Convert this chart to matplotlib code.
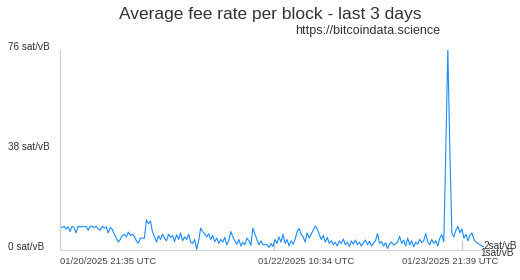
import matplotlib
matplotlib.use("Agg")
import matplotlib.pyplot as plt
import numpy as np

plt.rcParams['font.family'] = ['Liberation Sans', 'DejaVu Sans']

# average fee rate per block (sat/vB), oldest -> newest
fee = [9, 8.5, 9, 8, 8.8, 7, 9, 8.5, 6.5, 9, 8.7, 9, 8.8, 9, 7.5, 9, 9, 8.5, 9, 8,
       7.5, 9, 8.3, 8.8, 6.5, 8.5, 7.8,
       6, 4.5, 3, 4,
       5.5, 6, 5, 6.8, 5.5, 6, 5.2,
       3.5, 2.6, 4.5, 4.5, 4.5,
       11.4, 10, 11,
       7, 5, 3,
       5.5, 4, 6, 4.5, 3.5, 6, 4.8, 5.5, 3.2, 5.8, 4, 6.5, 3.5,
       5, 4, 6, 3, 2.5, 4, 0.3,
       3.5, 8.3, 7,
       6, 5, 6.2, 4, 5.5, 3.2, 4.5, 2.5, 4, 3, 4.8, 2, 3.5,
       7, 5,
       3.5, 2.2, 4, 1.5, 3, 2, 4.5, 3.5, 1.8,
       8.3, 6,
       4, 2, 3.5, 2, 2, 2, 1, 2.5, 1.3,
       4, 2.5, 5, 3, 6, 2.5, 4,
       1.5, 3.5, 2.2, 4,
       7, 8.2, 6, 5, 3, 6.5, 4.5,
       6, 7.5, 9.1, 8, 6,
       4, 5.5, 3, 4.8, 2.5,
       3.5, 2, 3, 1.5, 3.5, 2.5, 4.2, 2, 3, 1.3, 3.5, 2.2, 3.8, 2, 3, 1.5, 2.8,
       3.8, 2, 3.3, 1.5, 2.6, 3.5,
       6.3,
       2.5, 3.2, 1.5, 2.8, 0.6, 2.2, 3, 1.8, 2.4,
       3, 5.2, 2.5, 3.8, 1.5, 4.5, 2, 3.5, 1.2, 3, 2.2, 4, 2.8, 3.5,
       6.3,
       3, 2, 4, 2.5, 3.5, 1.5, 4.5, 5.8,
       3.2,
       38.5, 76, 38,
       6.5, 5, 7.5, 9,
       6.5, 8, 4.5, 6, 3.5, 5.5, 6.5, 4, 3, 2.5,
       2, 1.5, 1.2]

y_ticks = [0, 38, 76]
y_labels = ['0 sat/vB', '38 sat/vB', '76 sat/vB']
x_labels = ['01/20/2025 21:35 UTC', '01/22/2025 10:34 UTC', '01/23/2025 21:39 UTC']
x_label_pos = [0, 98.5, 170]     # block index where each label starts
x_tick_pos = [106.5, 200]
end_labels = ['2sat/vB', '1sat/vB']

W, H = 520, 280
fig = plt.figure(figsize=(W / 100, H / 100), dpi=100)
ax = fig.add_axes([60 / W, 1 - 250 / H, (484 - 60) / W, 200 / H])

x = np.arange(len(fee))
ax.plot(x, fee, color='#1a8cff', lw=0.8)

ax.set_xlim(0, len(fee) - 1)
ax.set_ylim(0, 76)
for s in ['top', 'right']:
    ax.spines[s].set_visible(False)
ax.spines['left'].set_color('#cccccc')
ax.spines['bottom'].set_color('#ccd6eb')
ax.set_yticks([])
ax.set_xticks(x_tick_pos)
ax.set_xticklabels([])
ax.tick_params(axis='x', direction='in', length=7.2, color='#cccccc', width=1)

# y labels, left aligned at the figure edge
for v, lab in zip(y_ticks, y_labels):
    ax.text(-52 / 424, v, lab, transform=ax.get_yaxis_transform(), ha='left',
            va='baseline', fontsize=7.2, color='#333333')

for p, lab in zip(x_label_pos, x_labels):
    ax.text(p, -0.035, lab, transform=ax.get_xaxis_transform(), ha='left',
            va='top', fontsize=6.8, color='#444444')

# last values at the right end
fig.text(483 / W, 1 - 249 / H, end_labels[0], ha='left', va='baseline',
         fontsize=7.2, color='#333333')
fig.text(480 / W, 1 - 256 / H, end_labels[1], ha='left', va='baseline',
         fontsize=7.2, color='#333333')

fig.text(270 / W, 1 - 15 / H, 'Average fee rate per block - last 3 days',
         ha='center', va='center', fontsize=12.5, color='#333333')
fig.text(440 / W, 1 - 31 / H, 'https://bitcoindata.science', ha='right',
         va='center', fontsize=9, color='#333333')

fig.savefig('out.png', dpi=100)
